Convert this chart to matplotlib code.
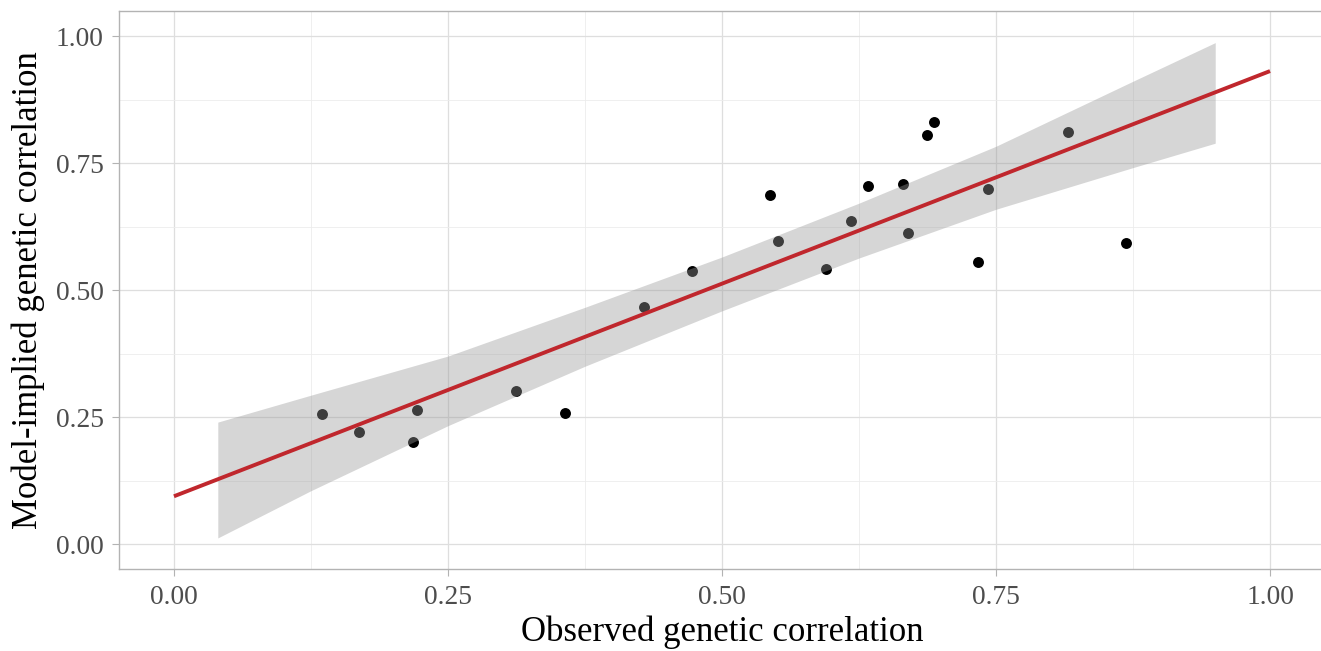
import matplotlib.pyplot as plt
import numpy as np

plt.rcParams['font.family'] = ['Liberation Serif', 'DejaVu Serif']

# observed vs model-implied genetic correlations
observed = [0.135, 0.169, 0.218, 0.222, 0.312, 0.357, 0.429, 0.473, 0.544, 0.551,
            0.595, 0.618, 0.633, 0.665, 0.670, 0.687, 0.693, 0.734, 0.743, 0.816, 0.869]
implied = [0.256, 0.221, 0.201, 0.264, 0.301, 0.257, 0.467, 0.538, 0.687, 0.596,
           0.541, 0.635, 0.705, 0.709, 0.612, 0.806, 0.831, 0.555, 0.699, 0.811, 0.593]

# fitted line and its confidence band
fit_x = [0.0, 1.0]
fit_y = [0.094, 0.931]
band_x = [0.04, 0.125, 0.25, 0.375, 0.50, 0.625, 0.75, 0.875, 0.95]
band_lo = [0.012, 0.105, 0.233, 0.350, 0.459, 0.563, 0.659, 0.741, 0.789]
band_hi = [0.240, 0.293, 0.370, 0.466, 0.565, 0.671, 0.783, 0.911, 0.987]

ticks = [0.0, 0.25, 0.5, 0.75, 1.0]
tick_labels = ['0.00', '0.25', '0.50', '0.75', '1.00']
minor = [0.125, 0.375, 0.625, 0.875]

fig = plt.figure(figsize=(13.21, 6.51), dpi=100)
ax = fig.add_axes([0.0902, 0.1253, 0.9127, 0.8584])

ax.scatter(observed, implied, s=62, color='black', linewidths=0, zorder=2)
ax.fill_between(band_x, band_lo, band_hi, color='#999999', alpha=0.4, linewidth=0, zorder=3)
ax.plot(fit_x, fit_y, color='#C0272D', linewidth=2.8, solid_capstyle='butt', zorder=4)

ax.set_xlim(-0.05, 1.05)
ax.set_ylim(-0.05, 1.05)
ax.set_xticks(ticks)
ax.set_xticklabels(tick_labels)
ax.set_yticks(ticks)
ax.set_yticklabels(tick_labels)
ax.set_xticks(minor, minor=True)
ax.set_yticks(minor, minor=True)

ax.grid(which='major', color='#dedede', linewidth=0.9, zorder=0)
ax.grid(which='minor', color='#ececec', linewidth=0.6, zorder=0)
ax.set_axisbelow(True)

for s in ax.spines.values():
    s.set_color('#b3b3b3')
    s.set_linewidth(1.0)
ax.spines['right'].set_visible(False)

ax.tick_params(which='major', length=5, width=0.8, color='#b3b3b3',
               labelsize=19.8, labelcolor='#4d4d4d', pad=6)
ax.tick_params(which='minor', length=0)

ax.set_xlabel('Observed genetic correlation', fontsize=25, labelpad=4)
ax.set_ylabel('Model-implied genetic correlation', fontsize=25, labelpad=8)

fig.savefig('out.png', dpi=100)
